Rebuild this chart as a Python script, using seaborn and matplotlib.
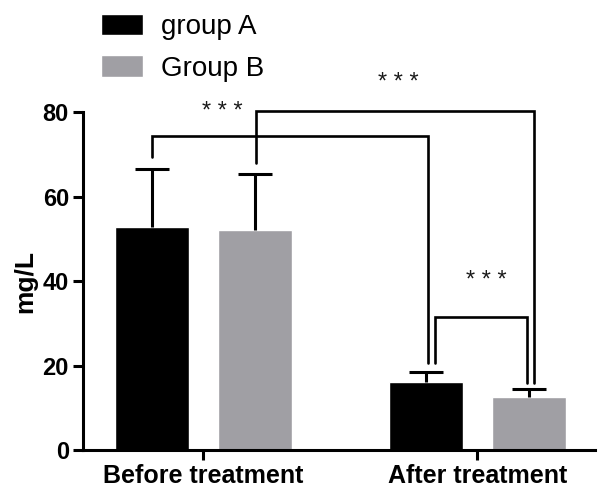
import matplotlib
matplotlib.use("Agg")
import matplotlib.pyplot as plt
import seaborn as sns
import pandas as pd

# data
groups = ["Before treatment", "After treatment"]
hue_names = ["group A", "Group B"]
mean_a = [52.8, 16.2]
sd_a = [13.8, 2.3]
mean_b = [52.1, 12.6]
sd_b = [13.2, 1.8]
stars = ["* * *", "* * *", "* * *"]

colors = ["#000000", "#a09fa4"]

sns.set_style("ticks")
plt.rcParams["font.family"] = ["Liberation Sans", "DejaVu Sans"]
plt.rcParams["text.color"] = "black"
plt.rcParams["axes.labelcolor"] = "black"
plt.rcParams["xtick.color"] = "black"
plt.rcParams["ytick.color"] = "black"

df = pd.DataFrame({
    "time": groups * 2,
    "group": [hue_names[0]] * 2 + [hue_names[1]] * 2,
    "value": mean_a + mean_b,
})

fig = plt.figure(figsize=(6.0, 4.94), dpi=100)
ax = fig.add_axes([0.138, 0.089, 0.854, 0.684])

sns.barplot(data=df, x="time", y="value", hue="group", order=groups,
            hue_order=hue_names, palette=colors, width=0.75, gap=0.28,
            errorbar=None, saturation=1, ax=ax, legend=True)

# upper error bars only (GraphPad style)
centers = []
tops = []
for cont, sds in zip(ax.containers, [sd_a, sd_b]):
    cx = [p.get_x() + p.get_width() / 2 for p in cont.patches]
    hy = [p.get_height() for p in cont.patches]
    eb = ax.errorbar(cx, hy, yerr=[[0] * len(sds), sds], fmt="none", ecolor="black",
                     elinewidth=2.2, capsize=12, capthick=2.2, zorder=3)
    eb[1][0].set_visible(False)  # hide the lower cap
    centers.append(cx)
    tops.append([h + s for h, s in zip(hy, sds)])

# significance brackets: (x1, x2, top level, y1 end, y2 end, star x, star y)
(a0, a1), (b0, b1) = centers
(ta0, ta1), (tb0, tb1) = tops
brackets = [
    (a0, a1 + 0.006, 74.3, ta0 + 2.7, ta1 + 2.2, 0.068, 80.0),
    (b0 + 0.005, b1 + 0.02, 80.2, tb0 + 2.7, tb1 + 1.5, 0.712, 87.0),
    (a1 + 0.033, b1 - 0.005, 31.6, ta1 + 2.2, tb1 + 1.5, 1.031, 40.0),
]
for (x1, x2, yt, y1, y2, sx, sy), s in zip(brackets, stars):
    ax.plot([x1, x1, x2, x2], [y1, yt, yt, y2], color="black", lw=1.9,
            solid_joinstyle="miter", clip_on=False, zorder=4)
    ax.text(sx, sy, s, ha="center", va="center", fontsize=17, color="#1a1a1a")

ax.set_xlim(-0.44, 1.43)
ax.set_ylim(0, 80)
ax.set_yticks([0, 20, 40, 60, 80])
ax.set_xlabel("")
ax.set_ylabel("mg/L", fontsize=19, fontweight="bold", labelpad=4)
for lab in ax.get_xticklabels() + ax.get_yticklabels():
    lab.set_fontweight("bold")
ax.tick_params(axis="x", labelsize=18, width=2.2, length=7, color="black", pad=3)
ax.tick_params(axis="y", labelsize=17, width=2.2, length=7, color="black", pad=3)
for side in ["left", "bottom"]:
    ax.spines[side].set_linewidth(2.2)
    ax.spines[side].set_color("black")
sns.despine(ax=ax)

handles, labels = ax.get_legend_handles_labels()
ax.legend_.remove()
fig.legend(handles, labels, loc="upper left", bbox_to_anchor=(0.145, 1.0),
           frameon=False, fontsize=20, handlelength=1.5, handleheight=0.8,
           labelspacing=0.55, handletextpad=0.65, borderaxespad=0.1)

fig.savefig("out.png", dpi=100)
